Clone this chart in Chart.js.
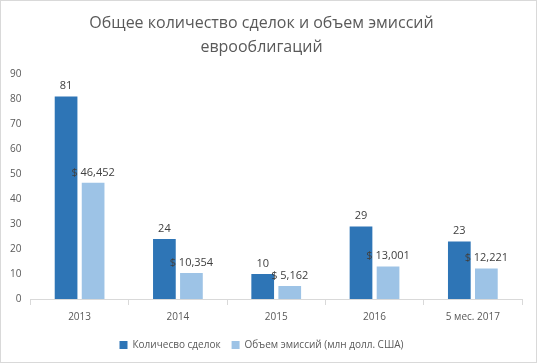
<!DOCTYPE html>
<html>
<head>
<meta charset="utf-8">
<script src="https://cdn.jsdelivr.net/npm/chart.js@4"></script>
<style>
  body { margin: 0; background: #fff; }
  #wrap { position: absolute; left: 0; top: 0; width: 535px; height: 361px; border: 1px solid #d9d9d9; }
</style>
</head>
<body>
<div id="wrap"><canvas id="dealsChart" width="535" height="361"></canvas></div>
<script>
var years = ["2013", "2014", "2015", "2016", "5 мес. 2017"];
var deals = [81, 24, 10, 29, 23];
// объем в млрд, подписи в млн
var volume = [46.452, 10.354, 5.162, 13.001, 12.221];
var volumeLabels = ["$ 46,452", "$ 10,354", "$ 5,162", "$ 13,001", "$ 12,221"];

const barLabels = {
    id: "barLabels",
    afterDatasetsDraw(chart) {
        var ctx = chart.ctx;
        ctx.save();
        ctx.font = "11px 'Open Sans'";
        ctx.fillStyle = "#404040";
        ctx.textAlign = "center";
        ctx.textBaseline = "bottom";
        chart.data.datasets.forEach(function (ds, i) {
            chart.getDatasetMeta(i).data.forEach(function (bar, j) {
                var txt = i == 0 ? String(deals[j]) : volumeLabels[j];
                ctx.fillText(txt, bar.x, bar.y - 5);
            });
        });
        ctx.restore();
    }
};

new Chart(document.getElementById("dealsChart"), {
    type: "bar",
    data: {
        labels: years,
        datasets: [{
            label: "Количесво сделок",
            data: deals,
            backgroundColor: "#2E75B6"
        },
        {
            label: "Объем эмиссий (млн долл. США)",
            data: volume,
            backgroundColor: "#9DC3E6"
        }]
    },
    options: {
        responsive: false,
        animation: false,
        layout: { padding: { left: 0, right: 14, top: 4, bottom: 2 } },
        datasets: { bar: { categoryPercentage: 0.55, barPercentage: 0.84 } },
        plugins: {
            title: {
                display: true,
                text: ["Общее количество сделок и объем эмиссий", "еврооблигаций"],
                color: "#595959",
                font: { family: "'Open Sans'", size: 16, weight: "normal", lineHeight: 1.5 },
                padding: { top: 6, bottom: 15 }
            },
            legend: {
                position: "bottom",
                labels: {
                    boxWidth: 8, boxHeight: 8, color: "#595959",
                    font: { family: "'Open Sans'", size: 10 },
                    padding: 11
                }
            },
            tooltip: { enabled: false }
        },
        scales: {
            x: {
                grid: { display: true, drawOnChartArea: false, offset: true, tickLength: 6, color: "#d9d9d9" },
                border: { color: "#d9d9d9" },
                ticks: { color: "#595959", font: { family: "'Open Sans'", size: 10 }, padding: 6 }
            },
            y: {
                min: 0, max: 90,
                grid: { display: false, drawTicks: false },
                border: { display: false },
                ticks: { stepSize: 10, color: "#595959", font: { family: "'Open Sans'", size: 10 }, padding: 9 }
            }
        }
    },
    plugins: [barLabels]
});
</script>
</body>
</html>
